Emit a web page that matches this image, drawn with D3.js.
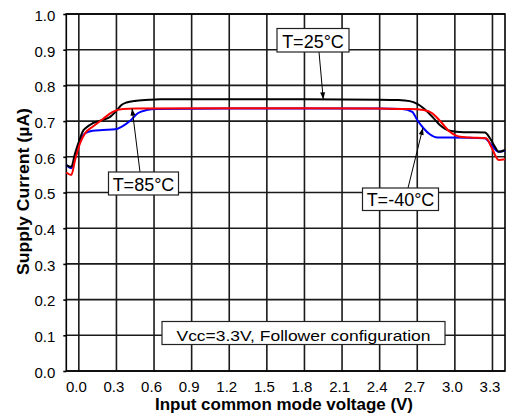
<!DOCTYPE html>
<html>
<head>
<meta charset="utf-8">
<script src="https://cdn.jsdelivr.net/npm/d3@7"></script>
<style>
  html, body { margin: 0; padding: 0; background: #fff; }
  svg { display: block; }
  text { font-family: Arial, "Liberation Sans", Helvetica, sans-serif; fill: #000; }
</style>
</head>
<body>
<svg id="chart" width="513" height="418"></svg>
<script>
// ---- Data ----
const xTicks = [0.0, 0.3, 0.6, 0.9, 1.2, 1.5, 1.8, 2.1, 2.4, 2.7, 3.0, 3.3];
const yTicks = [0.0, 0.1, 0.2, 0.3, 0.4, 0.5, 0.6, 0.7, 0.8, 0.9, 1.0];

// T = 25°C (black)
const v25 = [-0.10, -0.06, -0.03, 0.01, 0.03, 0.06, 0.11, 0.19, 0.25, 0.30, 0.34, 0.38, 0.46, 0.57, 0.65, 1.2, 1.8, 2.4, 2.55, 2.64, 2.70, 2.75, 2.82, 2.88, 2.96, 3.07, 3.24, 3.28, 3.32, 3.35, 3.40];
const i25 = [0.577, 0.572, 0.610, 0.652, 0.670, 0.682, 0.694, 0.703, 0.712, 0.729, 0.745, 0.752, 0.757, 0.760, 0.761, 0.761, 0.761, 0.760, 0.759, 0.756, 0.748, 0.736, 0.712, 0.689, 0.673, 0.669, 0.668, 0.652, 0.628, 0.614, 0.619];

// T = 85°C (red)
const v85 = [-0.10, -0.06, -0.03, 0.01, 0.05, 0.11, 0.19, 0.27, 0.35, 0.45, 1.2, 1.8, 2.4, 2.64, 2.75, 2.82, 2.88, 2.96, 3.04, 3.12, 3.25, 3.29, 3.35, 3.40];
const i85 = [0.556, 0.549, 0.591, 0.638, 0.666, 0.684, 0.705, 0.726, 0.734, 0.735, 0.736, 0.736, 0.735, 0.734, 0.731, 0.722, 0.701, 0.670, 0.656, 0.654, 0.652, 0.628, 0.591, 0.593];

// T = -40°C (blue)
const vm40 = [-0.10, -0.06, -0.03, 0.01, 0.05, 0.11, 0.19, 0.29, 0.34, 0.41, 0.47, 0.54, 0.62, 1.2, 1.8, 2.4, 2.58, 2.66, 2.70, 2.75, 2.80, 2.86, 2.96, 3.24, 3.28, 3.35, 3.40];
const im40 = [0.577, 0.568, 0.596, 0.647, 0.666, 0.673, 0.675, 0.677, 0.684, 0.701, 0.722, 0.731, 0.734, 0.735, 0.735, 0.735, 0.734, 0.726, 0.703, 0.680, 0.663, 0.654, 0.654, 0.652, 0.638, 0.614, 0.617];

const series = [
  { name: "T=-40°C", v: vm40, i: im40, color: "#0000ff" },
  { name: "T=25°C",  v: v25,  i: i25,  color: "#000000" },
  { name: "T=85°C",  v: v85,  i: i85,  color: "#ff0000" }
];

// ---- Layout ----
const svg = d3.select("#chart");
const L = 66.3, R = 505, T = 14, B = 371;
const x = d3.scaleLinear().domain([-0.1, 3.4]).range([L, R]);
const y = d3.scaleLinear().domain([0, 1]).range([B, T]);

// Gridlines
const grid = svg.append("g").attr("stroke", "#1a1a1a").attr("stroke-width", 1.6);
grid.selectAll("line.v").data(xTicks).join("line")
  .attr("x1", d => x(d)).attr("x2", d => x(d)).attr("y1", T).attr("y2", B);
grid.selectAll("line.h").data(yTicks).join("line")
  .attr("x1", L).attr("x2", R).attr("y1", d => y(d)).attr("y2", d => y(d));

// Frame
svg.append("rect").attr("x", L).attr("y", T).attr("width", R - L).attr("height", B - T)
  .attr("fill", "none").attr("stroke", "#000").attr("stroke-width", 1.6);

// Axes
const yAxis = svg.append("g").attr("transform", `translate(${L},0)`)
  .call(d3.axisLeft(y).tickValues(yTicks).tickSize(3).tickPadding(8).tickFormat(d3.format(".1f")));
yAxis.select(".domain").remove();
yAxis.selectAll("line").attr("stroke", "#000").attr("stroke-width", 1.6);
yAxis.selectAll("text").attr("font-size", 15).attr("dy", "0.42em")
  .style("font-family", "Arial, 'Liberation Sans', sans-serif");

const xAxis = svg.append("g").attr("transform", `translate(0,${B})`)
  .call(d3.axisBottom(x).tickValues(xTicks).tickSize(0).tickPadding(0).tickFormat(d3.format(".1f")));
xAxis.select(".domain").remove();
xAxis.selectAll("text").attr("font-size", 15).attr("y", 21).attr("dy", 0).attr("dx", -3)
  .style("font-family", "Arial, 'Liberation Sans', sans-serif");

// Axis titles
svg.append("text").attr("x", 284).attr("y", 410).attr("text-anchor", "middle")
  .attr("font-size", 16).attr("font-weight", "bold")
  .attr("textLength", 258).attr("lengthAdjust", "spacingAndGlyphs")
  .text("Input common mode voltage (V)");
svg.append("text").attr("transform", "translate(28.5,191.5) rotate(-90)").attr("text-anchor", "middle")
  .attr("font-size", 16).attr("font-weight", "bold")
  .attr("textLength", 167).attr("lengthAdjust", "spacingAndGlyphs")
  .text("Supply Current (µA)");

// Curves
const line = d3.line().x(d => x(d[0])).y(d => y(d[1])).curve(d3.curveMonotoneX);
series.forEach(s => {
  const pts = s.v.map((v, k) => [v, s.i[k]]);
  svg.append("path").datum(pts).attr("d", line)
    .attr("fill", "none").attr("stroke", s.color).attr("stroke-width", 2)
    .attr("stroke-linejoin", "round");
});

// Annotations
function arrow(x1, y1, x2, y2) {
  const g = svg.append("g");
  g.append("line").attr("x1", x1).attr("y1", y1).attr("x2", x2).attr("y2", y2)
    .attr("stroke", "#000").attr("stroke-width", 1);
  const a = Math.atan2(y2 - y1, x2 - x1);
  const len = 7, w = 2.5;
  const bx = x2 - len * Math.cos(a), by = y2 - len * Math.sin(a);
  const px = -Math.sin(a) * w, py = Math.cos(a) * w;
  g.append("path").attr("d", `M${x2},${y2}L${bx + px},${by + py}L${bx - px},${by - py}Z`).attr("fill", "#000");
}
function box(x0, y0, w, h, label, fs, baseline, tl) {
  svg.append("rect").attr("x", x0).attr("y", y0).attr("width", w).attr("height", h)
    .attr("fill", "#fff").attr("stroke", "#222").attr("stroke-width", 1.2);
  const t = svg.append("text").attr("x", x0 + w / 2).attr("y", baseline).attr("text-anchor", "middle")
    .attr("font-size", fs).text(label);
  if (tl) t.attr("textLength", tl).attr("lengthAdjust", "spacingAndGlyphs");
}

arrow(319, 52, x(1.95), y(0.761));
box(277, 28.5, 72, 23.5, "T=25°C", 18, 47.5);

arrow(140, 172, x(0.425), y(0.735));
box(108.5, 172, 70, 23, "T=85°C", 18, 190.5);

arrow(408, 188, x(2.745), y(0.681));
box(362.5, 188, 76, 22.5, "T=-40°C", 18, 205.5);

box(162, 321.5, 283, 23, "Vcc=3.3V, Follower configuration", 15, 340.5, 254);
</script>
</body>
</html>
